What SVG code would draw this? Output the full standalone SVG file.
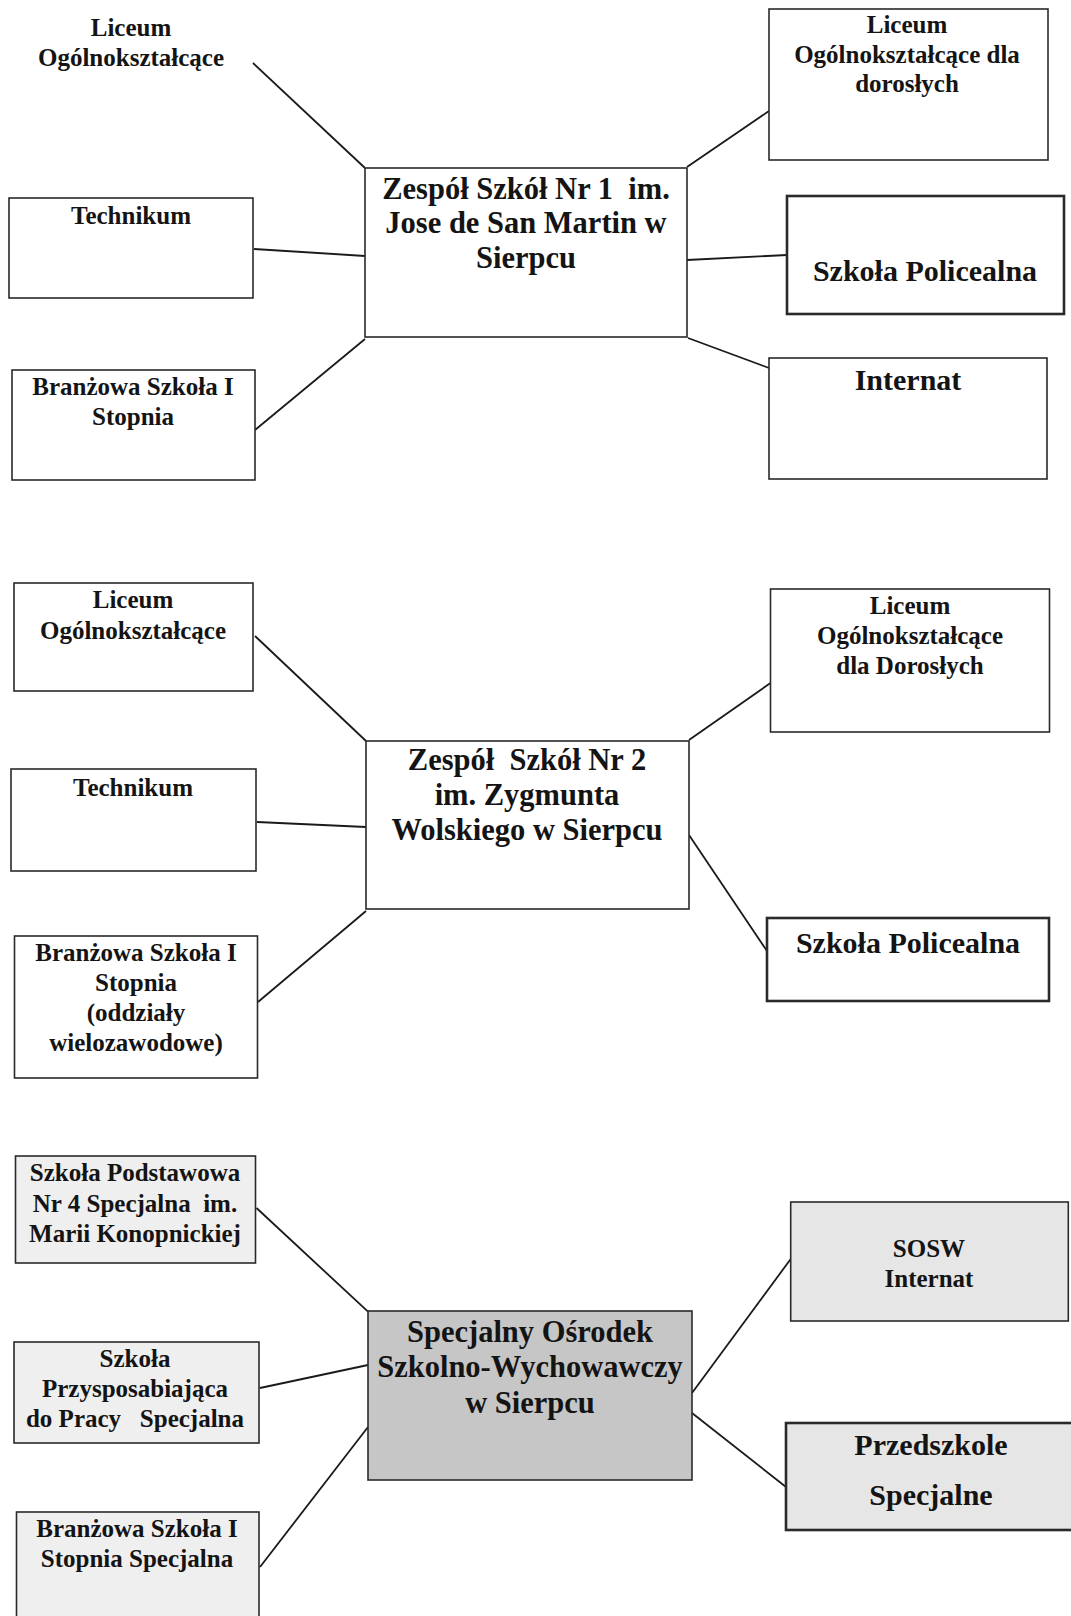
<svg xmlns="http://www.w3.org/2000/svg" width="1071" height="1616" viewBox="0 0 1071 1616">
<style>
text{font-family:"Liberation Serif","Times New Roman",serif;font-weight:bold;fill:#141414;text-anchor:middle;white-space:pre}
.s{font-size:25px}
.l{font-size:30.5px}
.m{font-size:30px}
.box{fill:#ffffff;stroke:#2a2a2a;stroke-width:1.6}
.thick{stroke-width:2.6}
.lt{fill:#efefef}
.lt2{fill:#e6e6e6}
.dk{fill:#c6c6c6}
.con line{stroke:#1a1a1a;stroke-width:1.8}
</style>
<rect width="1071" height="1616" fill="#ffffff"/>
<g class="con" id="connectors">
<line x1="253" y1="63" x2="365" y2="168"/>
<line x1="254" y1="249" x2="365" y2="256"/>
<line x1="255" y1="430" x2="365" y2="339"/>
<line x1="687" y1="167" x2="769" y2="111"/>
<line x1="687" y1="260" x2="787" y2="255"/>
<line x1="688" y1="338" x2="769" y2="368"/>
<line x1="255" y1="636" x2="366" y2="741"/>
<line x1="257" y1="822" x2="366" y2="827"/>
<line x1="258" y1="1002" x2="366" y2="911"/>
<line x1="689" y1="740" x2="770.5" y2="683"/>
<line x1="689" y1="835" x2="767" y2="951"/>
<line x1="256.5" y1="1208" x2="368" y2="1311.7"/>
<line x1="260" y1="1388" x2="368" y2="1365"/>
<line x1="260" y1="1567" x2="368" y2="1427"/>
<line x1="692" y1="1393" x2="790.7" y2="1259"/>
<line x1="692" y1="1413" x2="786" y2="1487"/>
</g>
<g id="s1-lo">
<text class="s" x="131" y="36">Liceum</text>
<text class="s" x="131" y="66">Ogólnokształcące</text>
</g>
<g id="s1-tech">
<rect class="box" x="9" y="198" width="244" height="100"/>
<text class="s" x="131" y="224">Technikum</text>
</g>
<g id="s1-bs">
<rect class="box" x="12" y="370" width="243" height="110"/>
<text class="s" x="133" y="395">Branżowa Szkoła I</text>
<text class="s" x="133" y="425">Stopnia</text>
</g>
<g id="s1-center">
<rect class="box" x="365" y="168" width="322" height="169"/>
<text class="l" x="526" y="198.5">Zespół Szkół Nr 1  im.</text>
<text class="l" x="526" y="233">Jose de San Martin w</text>
<text class="l" x="526" y="267.5">Sierpcu</text>
</g>
<g id="s1-lodd">
<rect class="box" x="769" y="9" width="279" height="151"/>
<text class="s" x="907" y="33">Liceum</text>
<text class="s" x="907" y="63">Ogólnokształcące dla</text>
<text class="s" x="907" y="92">dorosłych</text>
</g>
<g id="s1-sp">
<rect class="box thick" x="787" y="196" width="277" height="118"/>
<text class="m" x="925" y="281">Szkoła Policealna</text>
</g>
<g id="s1-internat">
<rect class="box" x="769" y="358" width="278" height="121"/>
<text class="m" x="908" y="390">Internat</text>
</g>
<g id="s2-lo">
<rect class="box" x="14" y="583" width="239" height="108"/>
<text class="s" x="133" y="608">Liceum</text>
<text class="s" x="133" y="639">Ogólnokształcące</text>
</g>
<g id="s2-tech">
<rect class="box" x="11" y="769" width="245" height="102"/>
<text class="s" x="133" y="796">Technikum</text>
</g>
<g id="s2-bs">
<rect class="box" x="14.5" y="936" width="243" height="142"/>
<text class="s" x="136" y="960.5">Branżowa Szkoła I</text>
<text class="s" x="136" y="991">Stopnia</text>
<text class="s" x="136" y="1021">(oddziały</text>
<text class="s" x="136" y="1050.5">wielozawodowe)</text>
</g>
<g id="s2-center">
<rect class="box" x="366" y="741" width="323" height="168"/>
<text class="l" x="527" y="770">Zespół  Szkół Nr 2</text>
<text class="l" x="527" y="805">im. Zygmunta</text>
<text class="l" x="527" y="840">Wolskiego w Sierpcu</text>
</g>
<g id="s2-lodd">
<rect class="box" x="770.5" y="589" width="279" height="143"/>
<text class="s" x="910" y="614">Liceum</text>
<text class="s" x="910" y="644">Ogólnokształcące</text>
<text class="s" x="910" y="674">dla Dorosłych</text>
</g>
<g id="s2-sp">
<rect class="box thick" x="767" y="918" width="282" height="83"/>
<text class="m" x="908" y="952.5">Szkoła Policealna</text>
</g>
<g id="s3-sp4">
<rect class="box lt" x="15.5" y="1156" width="240" height="107"/>
<text class="s" x="135" y="1181">Szkoła Podstawowa</text>
<text class="s" x="135" y="1211.7">Nr 4 Specjalna  im.</text>
<text class="s" x="135" y="1241.7">Marii Konopnickiej</text>
</g>
<g id="s3-spdp">
<rect class="box lt" x="14" y="1342" width="245" height="101"/>
<text class="s" x="135" y="1366.7">Szkoła</text>
<text class="s" x="135" y="1396.7">Przysposabiająca</text>
<text class="s" x="135" y="1426.7">do Pracy   Specjalna</text>
</g>
<g id="s3-bs">
<rect class="box lt" x="16.5" y="1512" width="242.5" height="112"/>
<text class="s" x="137" y="1536.7">Branżowa Szkoła I</text>
<text class="s" x="137" y="1566.7">Stopnia Specjalna</text>
</g>
<g id="s3-center">
<rect class="box dk" x="368" y="1311" width="324" height="169"/>
<text class="l" x="530" y="1341.7">Specjalny Ośrodek</text>
<text class="l" x="530" y="1377.3">Szkolno-Wychowawczy</text>
<text class="l" x="530" y="1413.3">w Sierpcu</text>
</g>
<g id="s3-sosw">
<rect class="box lt2" x="790.7" y="1202" width="277.6" height="119"/>
<text class="s" x="929" y="1256.7">SOSW</text>
<text class="s" x="929" y="1286.7">Internat</text>
</g>
<g id="s3-przedszkole">
<rect class="box lt2 thick" x="786" y="1423" width="290" height="107"/>
<text class="m" x="931" y="1455">Przedszkole</text>
<text class="m" x="931" y="1505">Specjalne</text>
</g>
</svg>
